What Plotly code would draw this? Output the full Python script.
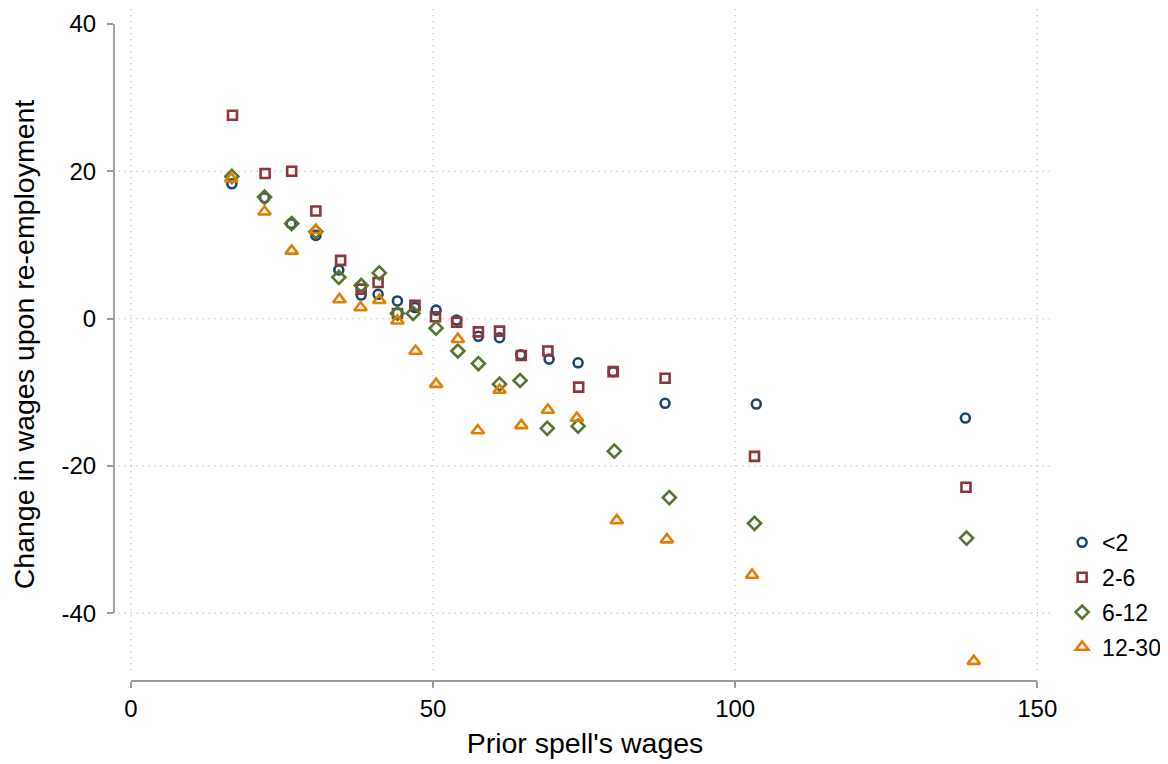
import plotly.graph_objects as go

# ---- data ----
labels = ["<2", "2-6", "6-12", "12-30"]

x_lt2 = [16.7, 22.1, 26.5, 30.6, 34.4, 38.1, 40.9, 44.1, 47.0, 50.5, 53.9, 57.5, 61.0, 64.5, 69.2, 74.0, 79.8, 88.4, 103.5, 138.1]
y_lt2 = [18.3, 16.4, 12.9, 11.3, 6.6, 3.2, 3.3, 2.4, 1.5, 1.15, -0.2, -2.4, -2.6, -4.9, -5.5, -6.0, -7.2, -11.5, -11.6, -13.5]

x_2_6 = [16.8, 22.2, 26.6, 30.6, 34.7, 38.1, 40.9, 44.1, 47.0, 50.4, 53.9, 57.5, 61.0, 64.6, 69.0, 74.1, 79.8, 88.4, 103.2, 138.2]
y_2_6 = [27.6, 19.7, 20.0, 14.6, 7.9, 4.0, 4.9, 0.7, 1.8, 0.25, -0.5, -1.8, -1.7, -5.0, -4.4, -9.3, -7.2, -8.1, -18.7, -22.9]

x_6_12 = [16.7, 22.1, 26.6, 30.6, 34.4, 38.1, 41.1, 44.1, 46.7, 50.5, 54.1, 57.5, 61.0, 64.4, 68.9, 74.0, 80.0, 89.1, 103.2, 138.3]
y_6_12 = [19.3, 16.5, 12.9, 11.8, 5.6, 4.5, 6.2, 0.7, 0.7, -1.3, -4.4, -6.1, -8.9, -8.4, -14.9, -14.6, -18.0, -24.3, -27.8, -29.8]

x_12_30 = [16.6, 22.1, 26.6, 30.6, 34.5, 38.0, 41.1, 44.1, 47.1, 50.5, 54.1, 57.4, 61.0, 64.6, 69.0, 73.8, 80.4, 88.7, 102.8, 139.5]
y_12_30 = [19.0, 14.5, 9.2, 12.0, 2.6, 1.5, 2.5, -0.3, -4.4, -8.9, -2.8, -15.2, -9.7, -14.5, -12.4, -13.5, -27.4, -30.0, -34.8, -46.5]

x_ticks = [0, 50, 100, 150]
y_ticks = [40, 20, 0, -20, -40]
y_grid = [20, 0, -20, -40]

colors = ["#1a476f", "#90353b", "#55752f", "#e37e00"]
symbols = ["circle-open", "square-open", "diamond-open", "triangle-up-open"]
sizes = [9, 9, 10, 11]

series = [(x_lt2, y_lt2), (x_2_6, y_2_6), (x_6_12, y_6_12), (x_12_30, y_12_30)]

fig = go.Figure()
for i, (xs, ys) in enumerate(series):
    fig.add_trace(go.Scatter(
        x=xs, y=ys, mode="markers", name=labels[i],
        legendgroup=labels[i],
        marker=dict(symbol=symbols[i], size=sizes[i], color=colors[i],
                    line=dict(width=2.6, color=colors[i])),
    ))

FONT = "Liberation Sans, Arial, sans-serif"
grid_col = "#b0b0b0"
axis_col = "#9a9a9a"

shapes = []
# dotted gridlines
for gy in y_grid:
    shapes.append(dict(type="line", xref="paper", yref="y", x0=0.005, x1=0.995, y0=gy, y1=gy,
                       line=dict(color=grid_col, width=1.3, dash="1px,5px"), layer="below"))
for gx in x_ticks:
    shapes.append(dict(type="line", xref="x", yref="paper", x0=gx, x1=gx, y0=0.016, y1=1,
                       line=dict(color=grid_col, width=1.3, dash="1px,5px"), layer="below"))
# axis lines spanning tick range only
shapes.append(dict(type="line", xref="paper", yref="y", x0=0, x1=0, y0=min(y_ticks), y1=max(y_ticks),
                   line=dict(color=axis_col, width=1.8)))
shapes.append(dict(type="line", xref="x", yref="paper", x0=min(x_ticks), x1=max(x_ticks), y0=0, y1=0,
                   line=dict(color=axis_col, width=1.8)))

fig.update_layout(
    width=1168, height=764,
    margin=dict(l=106, r=120, t=0, b=91, autoexpand=False),
    paper_bgcolor="white", plot_bgcolor="white",
    font=dict(family=FONT, size=24, color="#000000"),
    shapes=shapes,
    showlegend=True,
    legend=dict(x=1.0065, y=0.238, xanchor="left", yanchor="top",
                font=dict(size=23, family=FONT), tracegroupgap=2,
                bgcolor="rgba(0,0,0,0)", itemwidth=30),
    xaxis=dict(range=[-2.81, 153.1], tickvals=x_ticks, ticktext=[str(v) for v in x_ticks],
               showgrid=False, zeroline=False, showline=False, automargin=False,
               ticks="outside", ticklen=6, tickwidth=1.8, tickcolor=axis_col,
               tickfont=dict(size=24, family=FONT), ticklabelstandoff=0,
               title=dict(text="Prior spell's wages", font=dict(size=28.5, family=FONT), standoff=12)),
    yaxis=dict(range=[-49.2, 42.17], tickvals=y_ticks, ticktext=[str(v) for v in y_ticks],
               showgrid=False, zeroline=False, showline=False, automargin=False,
               ticks="outside", ticklen=6, tickwidth=1.8, tickcolor=axis_col,
               tickfont=dict(size=24, family=FONT), ticklabelstandoff=6,
               title=dict(text="Change in wages upon re-employment", font=dict(size=28.5, family=FONT), standoff=20)),
)

fig.write_html("out.html")
